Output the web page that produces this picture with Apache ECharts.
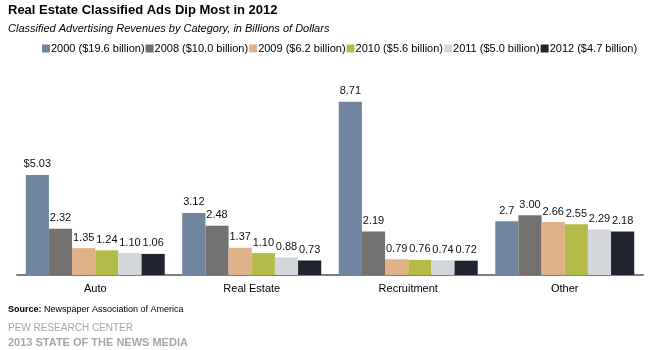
<!DOCTYPE html>
<html><head><meta charset="utf-8">
<script src="https://cdn.jsdelivr.net/npm/echarts@6/dist/echarts.min.js"></script>
<style>html,body{margin:0;padding:0;background:#fff}#c{width:658px;height:350px}</style>
</head><body><div id="c"></div>
<script>
var categories = ['Auto', 'Real Estate', 'Recruitment', 'Other'];
var seriesNames = ['2000 ($19.6 billion)', '2008 ($10.0 billion)', '2009 ($6.2 billion)', '2010 ($5.6 billion)', '2011 ($5.0 billion)', '2012 ($4.7 billion)'];
var v2000 = [5.03, 3.12, 8.71, 2.70];
var v2008 = [2.32, 2.48, 2.19, 3.00];
var v2009 = [1.35, 1.37, 0.79, 2.66];
var v2010 = [1.24, 1.10, 0.76, 2.55];
var v2011 = [1.10, 0.88, 0.74, 2.29];
var v2012 = [1.06, 0.73, 0.72, 2.18];
var l2000 = ['$5.03', '3.12', '8.71', '2.7'];
var l2008 = ['2.32', '2.48', '2.19', '3.00'];
var l2009 = ['1.35', '1.37', '0.79', '2.66'];
var l2010 = ['1.24', '1.10', '0.76', '2.55'];
var l2011 = ['1.10', '0.88', '0.74', '2.29'];
var l2012 = ['1.06', '0.73', '0.72', '2.18'];
var colors = ['#71869e', '#737070', '#dfb28a', '#b4bb48', '#d3d6da', '#1f2430'];

var values = [v2000, v2008, v2009, v2010, v2011, v2012];
var labels = [l2000, l2008, l2009, l2010, l2011, l2012];
var FONT = '"Liberation Sans", Arial, sans-serif';

var series = seriesNames.map(function (n, i) {
  return {
    name: n, type: 'bar', data: values[i],
    barGap: '0%', barCategoryGap: '11.2%',
    itemStyle: { color: colors[i] },
    label: {
      show: true, position: 'top', distance: 5,
      color: '#111', fontFamily: FONT, fontSize: 11,
      formatter: (function (arr) { return function (p) { return arr[p.dataIndex]; }; })(labels[i])
    }
  };
});

var chart = echarts.init(document.getElementById('c'));
chart.setOption({
  animation: false,
  color: colors,
  textStyle: { fontFamily: FONT },
  title: [
    { text: 'Real Estate Classified Ads Dip Most in 2012', left: 3, top: -1,
      textStyle: { fontSize: 13, fontWeight: 'bold', color: '#000', fontFamily: FONT } },
    { text: 'Classified Advertising Revenues by Category, in Billions of Dollars', left: 3, top: 18,
      textStyle: { fontSize: 11, fontStyle: 'italic', fontWeight: 'normal', color: '#000', fontFamily: FONT } },
    { text: '{b|Source:} Newspaper Association of America', left: 3, top: 300,
      textStyle: { fontSize: 9, fontWeight: 'normal', color: '#000', fontFamily: FONT,
        rich: { b: { fontSize: 9, fontWeight: 'bold', color: '#000', fontFamily: FONT } } } },
    { text: 'PEW RESEARCH CENTER', left: 3, top: 318,
      textStyle: { fontSize: 10, fontWeight: 'normal', color: '#a6a6a6', fontFamily: FONT } },
    { text: '2013 STATE OF THE NEWS MEDIA', left: 3, top: 332,
      textStyle: { fontSize: 11, fontWeight: 'bold', color: '#a6a6a6', fontFamily: FONT } }
  ],
  legend: {
    data: seriesNames, top: 38, left: 37, width: 640,
    itemWidth: 8, itemHeight: 8, itemGap: 1,
    icon: 'rect',
    textStyle: { fontSize: 11, color: '#000', fontFamily: FONT, padding: [0, 0, 0, -4] }
  },
  grid: { left: 17, right: 15, top: 76, bottom: 75, containLabel: false },
  xAxis: {
    type: 'category', data: categories,
    axisLine: { lineStyle: { color: '#808080', width: 2 } },
    axisTick: { show: false },
    axisLabel: { color: '#000', fontSize: 11, fontFamily: FONT, margin: 8 }
  },
  yAxis: {
    type: 'value', min: 0, max: 10, show: false,
    splitLine: { show: false }
  },
  series: series
});
</script></body></html>
